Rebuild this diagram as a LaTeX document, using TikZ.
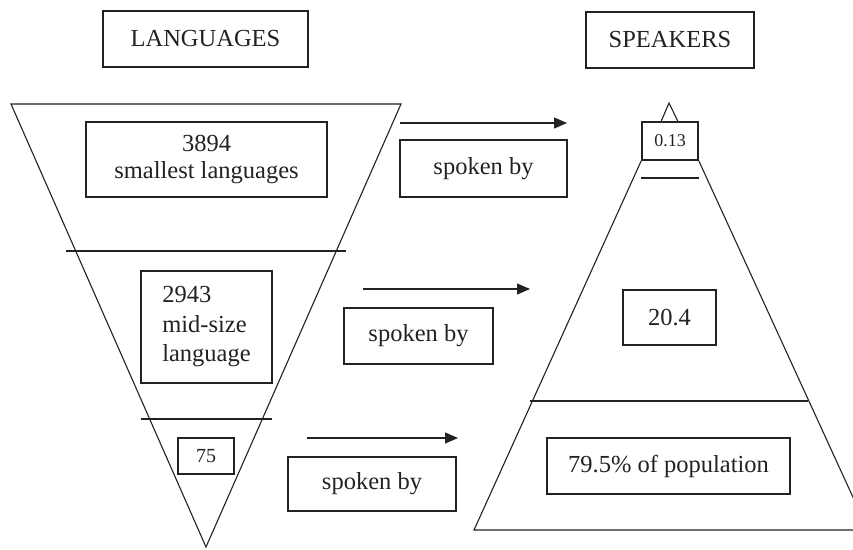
\documentclass[tikz,border=0pt]{standalone}
\usepackage{fontspec}
\setmainfont{Liberation Serif}
\usetikzlibrary{arrows.meta}
\definecolor{ink}{HTML}{222222}
\tikzset{
  box/.style={draw=ink, line width=1.6pt, inner sep=0pt, text=ink, font=\fontsize{24.5}{27}\selectfont, align=center},
  thin/.style={draw=ink, line width=1.1pt},
  arr/.style={draw=ink, line width=1.1pt, -{Triangle[length=13pt,width=11pt]}}
}
\begin{document}
\begin{tikzpicture}[x=1pt,y=-1pt]
\useasboundingbox (0,0) rectangle (853,549);
\clip (0,0) rectangle (853,549);
% left inverted triangle
\draw[thin] (11,104) -- (401,104) -- (206,547) -- cycle;
\draw[thin] (66,251) -- (346,251);
\draw[thin] (141,419) -- (272,419);
% titles
\node[box, minimum width=205pt, minimum height=56pt] (lang) at (205.5,39) {LANGUAGES};
\node[box, minimum width=168pt, minimum height=56pt] (spk) at (670,40) {SPEAKERS};
% left boxes
\node[box, minimum width=241pt, minimum height=75pt] (b3894) at (206.5,159.5) {3894\\smallest languages};
\node[box, minimum width=131pt, minimum height=112pt, align=left, font=\fontsize{24.5}{29.5}\selectfont] (b2943) at (206.5,327) {2943\\mid-size\\language};
\node[box, minimum width=56pt, minimum height=36pt, font=\fontsize{20}{22}\selectfont] (b75) at (206,456) {75};
% spoken by boxes
\node[box, minimum width=167pt, minimum height=57pt] (sb1) at (483.5,168.5) {spoken by};
\node[box, minimum width=149pt, minimum height=56pt] (sb2) at (418.5,336) {spoken by};
\node[box, minimum width=168pt, minimum height=54pt] (sb3) at (372,484) {spoken by};
% arrows
\coordinate (a1s) at (400,123); \coordinate (a1e) at (567,123);
\coordinate (a2s) at (363,289); \coordinate (a2e) at (530,289);
\coordinate (a3s) at (307,438); \coordinate (a3e) at (458,438);
\draw[arr] (a1s) -- (a1e);
\draw[arr] (a2s) -- (a2e);
\draw[arr] (a3s) -- (a3e);
% right pyramid
\node[box, minimum width=56pt, minimum height=38pt, font=\fontsize{18}{20}\selectfont] (b013) at (670,141) {0.13};
\coordinate (apex) at (669,103);
\draw[thin] (b013.north west) ++(20,0) -- (apex) -- ([xshift=-21pt]b013.north east);
\draw[thin] (641,178) -- (699,178);
\coordinate (bl) at (474,530);
\coordinate (br) at (868,530);
\draw[thin] (b013.south west) -- (bl) -- (br) -- (b013.south east);
\draw[thin] (530,401) -- (808,401);
\node[box, minimum width=93pt, minimum height=55pt] (b204) at (669.5,317.5) {20.4};
\node[box, minimum width=243pt, minimum height=56pt] (b795) at (668.5,466) {79.5\% of population};
\end{tikzpicture}
\end{document}
